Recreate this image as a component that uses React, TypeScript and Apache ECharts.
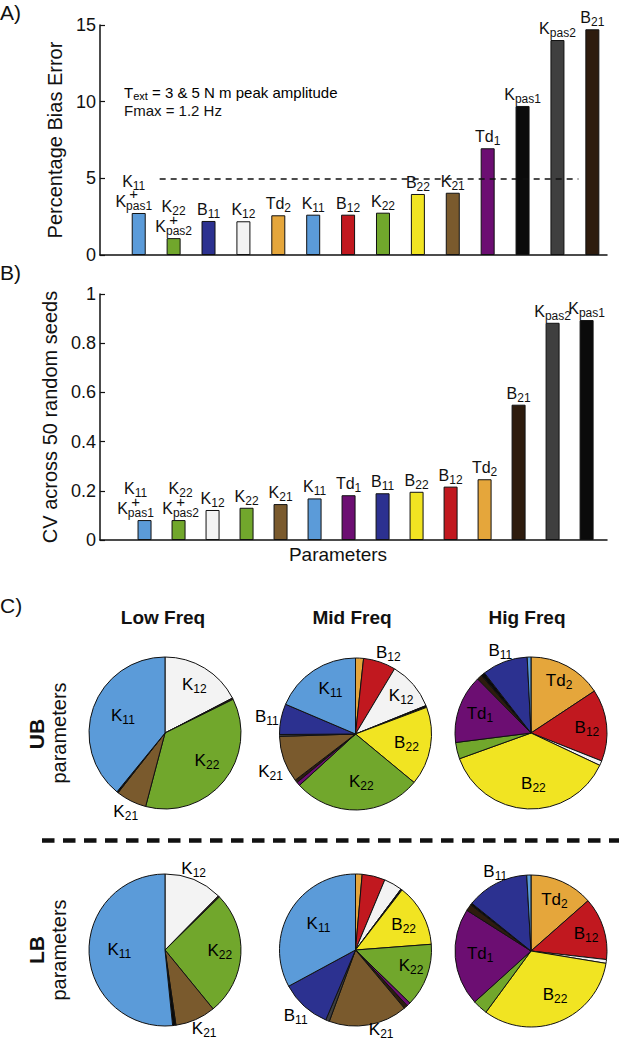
import React, { useEffect, useRef } from 'react';
import * as echarts from 'echarts';

const FONT = '"Liberation Sans", Arial, Helvetica, sans-serif';
const INK = '#111111';

const COLORS: Record<string, string> = {
  K11: '#5b9bd9', K12: '#f3f3f3', K21: '#7a5a2d', K22: '#71a72c',
  B11: '#2c3190', B12: '#c1181f', B21: '#2e1c0e', B22: '#f1e422',
  Td1: '#6c0e72', Td2: '#e5a63b', Kpas1: '#0b0b0b', Kpas2: '#3f3f3f',
};

// Panel A: percentage bias error
const biasParams = ['K11+Kpas1', 'K22+Kpas2', 'B11', 'K12', 'Td2', 'K11', 'B12', 'K22', 'B22', 'K21', 'Td1', 'Kpas1', 'Kpas2', 'B21'];
const biasValues = [2.74, 1.1, 2.22, 2.2, 2.59, 2.63, 2.63, 2.76, 3.98, 4.06, 6.96, 9.72, 14.02, 14.72];
const biasTicks = { min: 0, max: 15, step: 5 };
const biasThreshold = 5;

// Panel B: CV across 50 random seeds
const cvParams = ['K11+Kpas1', 'K22+Kpas2', 'K12', 'K22', 'K21', 'K11', 'Td1', 'B11', 'B22', 'B12', 'Td2', 'B21', 'Kpas2', 'Kpas1'];
const cvValues = [0.081, 0.081, 0.122, 0.131, 0.146, 0.169, 0.182, 0.19, 0.196, 0.217, 0.247, 0.55, 0.883, 0.894];
const cvTicks = { min: 0, max: 1, step: 0.2 };

// Panel C: pie shares (%), clockwise from 12 o'clock
const lowUBNames = ['K12', 'B21', 'K22', 'K21', 'Kpas1', 'K11'];
const lowUBShares = [17.4, 0.3, 36.4, 6.5, 0.3, 39.1];
const midUBNames = ['Td2', 'B12', 'K12', 'Kpas1', 'B22', 'K22', 'Td1', 'B21', 'K21', 'Kpas2', 'B11', 'K11'];
const midUBShares = [1.7, 6.9, 10.3, 0.4, 16.7, 27.2, 0.8, 0.6, 9.9, 0.4, 6.5, 18.6];
const higUBNames = ['Td2', 'B12', 'K12', 'B22', 'K22', 'Td1', 'B21', 'Kpas1', 'B11', 'K11'];
const higUBShares = [15.7, 15.3, 1.0, 37.5, 3.5, 14.6, 1.1, 0.8, 9.7, 0.8];
const lowLBNames = ['K12', 'B21', 'K22', 'K21', 'Kpas1', 'K11'];
const lowLBShares = [12.4, 0.3, 26.4, 8.6, 0.7, 51.6];
const midLBNames = ['Td2', 'B12', 'K12', 'Kpas1', 'B22', 'K22', 'Td1', 'B21', 'K21', 'Kpas2', 'B11', 'K11'];
const midLBShares = [1.4, 4.9, 3.9, 0.3, 13.3, 13.5, 0.8, 0.8, 16.7, 0.8, 10.7, 32.9];
const higLBNames = ['Td2', 'B12', 'K12', 'B22', 'K22', 'Td1', 'B21', 'Kpas1', 'B11', 'K11'];
const higLBShares = [13.5, 13.3, 0.8, 32.5, 3.2, 20.7, 1.4, 0.4, 13.3, 0.9];

const pieTitles = ['Low Freq', 'Mid Freq', 'Hig Freq'];

// layout / styling of the pies (not data)
const R = 76;
type LabelSpec = [string, number, number?];
const PIES: { names: string[]; shares: number[]; center: [number, number]; labels: LabelSpec[] }[] = [
  { names: lowUBNames, shares: lowUBShares, center: [165, 733], labels: [['K12', 0.74], ['K22', 0.66, -6], ['K21', 1.16], ['K11', 0.6, 3]] },
  { names: midUBNames, shares: midUBShares, center: [355.5, 734], labels: [['B12', 1.15, 3.5], ['K12', 0.79], ['B22', 0.68], ['K22', 0.63, -5.5], ['K21', 1.22, -4], ['B11', 1.19], ['K11', 0.68, 4.5]] },
  { names: higUBNames, shares: higUBShares, center: [531, 733], labels: [['Td2', 0.78], ['B12', 0.74], ['B22', 0.66, -5.5], ['Td1', 0.72, 2], ['B11', 1.16]] },
  { names: lowLBNames, shares: lowLBShares, center: [165, 950], labels: [['K12', 1.14, -3], ['K22', 0.72, -3], ['K21', 1.16, -2.6], ['K11', 0.6, 3]] },
  { names: midLBNames, shares: midLBShares, center: [355.5, 950], labels: [['B22', 0.72], ['K22', 0.76, -4], ['K21', 1.1, -8], ['B11', 1.17], ['K11', 0.6, 5]] },
  { names: higLBNames, shares: higLBShares, center: [531, 951], labels: [['Td2', 0.75], ['B12', 0.76], ['B22', 0.65, -7], ['Td1', 0.67, 2], ['B11', 1.15, 3]] },
];

const sub = (name: string, m = 'm', s = 's') => {
  const main = name.startsWith('Td') ? 'Td' : name[0];
  const rest = name.slice(main.length);
  return `{${m}|${main}}{${s}|${rest}}`;
};

const rich = (main: number, small: number, lh: number, pad: number, color = INK) => ({
  m: { fontSize: main, fontFamily: FONT, color, lineHeight: lh },
  s: { fontSize: small, fontFamily: FONT, color, lineHeight: lh, padding: [pad, 0, 0, 0] },
  mt: { fontSize: main, fontFamily: FONT, color, lineHeight: lh - 2 },
  st: { fontSize: small, fontFamily: FONT, color, lineHeight: lh - 2, padding: [pad, 0, 0, 0] },
  p: { fontSize: 15, fontFamily: FONT, color, lineHeight: 4, padding: [6, 0, 0, 0] },
});

const BAR_RICH = rich(16, 12, 17, 9);
const PIE_RICH = rich(17, 12, 18, 9);

const barLabel = (param: string) => {
  if (param.includes('+')) {
    const [a, b] = param.split('+');
    return `${sub(a, 'mt', 'st')}\n{p|+}\n${sub(b)}`;
  }
  return sub(param);
};

const colorOf = (param: string) => COLORS[param.split('+')[0]];

function pieLabelGraphics() {
  const out: any[] = [];
  PIES.forEach((p) => {
    const total = p.shares.reduce((a, b) => a + b, 0);
    const mids: Record<string, number> = {};
    let cum = 0;
    p.names.forEach((n, i) => {
      if (!(n in mids)) mids[n] = ((cum + p.shares[i] / 2) / total) * 360;
      cum += p.shares[i];
    });
    p.labels.forEach(([n, rf, off]) => {
      const a = ((mids[n] + (off || 0)) * Math.PI) / 180;
      const x = p.center[0] + rf * R * Math.sin(a);
      const y = p.center[1] - rf * R * Math.cos(a);
      out.push({
        type: 'text', x, y, silent: true, z: 20,
        style: {
          text: sub(n), rich: n === 'Td1' ? rich(17, 12, 18, 9, '#1c0a1c') : PIE_RICH,
          align: 'center', verticalAlign: 'middle', textAlign: 'center', textVerticalAlign: 'middle',
        },
      });
    });
  });
  return out;
}

const txt = (text: string, x: number, y: number, fontSize: number, opts: any = {}) => ({
  type: 'text', x, y, silent: true, rotation: opts.rotation || 0, z: 20,
  style: {
    text, fill: INK, fontSize, fontFamily: FONT, fontWeight: opts.bold ? 'bold' : 'normal',
    align: opts.align || 'center', verticalAlign: 'middle',
    textAlign: opts.align || 'center', textVerticalAlign: 'middle',
  },
});

// horizontal nudges for the two wide combined labels (layout only)
const labelNudgeA = [-5, 0];
const labelNudgeB = [-9, 2];

export default function App() {
  const ref = useRef<HTMLDivElement>(null);
  useEffect(() => {
    document.body.style.margin = '0';
    if (!ref.current) return;
    const chart = echarts.init(ref.current, undefined, { renderer: 'svg' });

    const axisLine = { show: true, onZero: false, lineStyle: { color: INK, width: 1.5 } };
    const xBase = {
      type: 'value', axisLine, axisTick: { show: false }, axisLabel: { show: false }, splitLine: { show: false },
    };
    const yBase = {
      type: 'value', axisLine, splitLine: { show: false },
      axisTick: { show: true, inside: true, length: 5, lineStyle: { color: INK, width: 1.2 } },
      axisLabel: { fontSize: 18, color: INK, fontFamily: FONT, margin: 4 },
      nameLocation: 'middle', nameRotate: 90,
      nameTextStyle: { fontSize: 20, color: INK, fontFamily: FONT },
    };

    const option: any = {
      animation: false,
      grid: [
        { left: 100, top: 25, width: 507, height: 230 },
        { left: 100, top: 294, width: 507, height: 246 },
      ],
      xAxis: [
        { ...xBase, gridIndex: 0, min: -0.11, max: 14.42 },
        {
          ...xBase, gridIndex: 1, min: -0.31, max: 14.6,
          name: 'Parameters', nameLocation: 'middle', nameGap: 5,
          nameTextStyle: { fontSize: 19, color: INK, fontFamily: FONT, padding: [0, 31, 0, 0] },
        },
      ],
      yAxis: [
        { ...yBase, gridIndex: 0, min: biasTicks.min, max: biasTicks.max, interval: biasTicks.step, name: 'Percentage Bias Error', nameGap: 30 },
        { ...yBase, gridIndex: 1, min: cvTicks.min, max: cvTicks.max, interval: cvTicks.step, name: 'CV across 50 random seeds', nameGap: 32 },
      ],
      series: [
        {
          type: 'line', xAxisIndex: 0, yAxisIndex: 0, data: [], z: 1, silent: true,
          markLine: {
            symbol: 'none', silent: true, label: { show: false },
            lineStyle: { color: INK, type: [6, 5], width: 1.5 },
            data: [[{ coord: [1.6, biasThreshold] }, { coord: [13.6, biasThreshold] }]],
          },
        },
        {
          type: 'bar', xAxisIndex: 0, yAxisIndex: 0, barWidth: 14, z: 3, silent: true,
          itemStyle: { borderColor: INK, borderWidth: 1 },
          label: {
            show: true, position: 'top', distance: 3, rich: BAR_RICH,
            formatter: (p: any) => barLabel(biasParams[p.dataIndex]),
          },
          data: biasValues.map((v, i) => ({
            value: [i + 1, v],
            itemStyle: { color: colorOf(biasParams[i]) },
            label: Math.abs(v - biasThreshold) < 1.2
              ? { backgroundColor: '#ffffff', padding: [0, 3] }
              : i < 2 ? { offset: [labelNudgeA[i], 0] } : undefined,
          })),
        },
        {
          type: 'bar', xAxisIndex: 1, yAxisIndex: 1, barWidth: 14, z: 3, silent: true,
          itemStyle: { borderColor: INK, borderWidth: 1 },
          label: {
            show: true, position: 'top', distance: 3, rich: BAR_RICH,
            formatter: (p: any) => barLabel(cvParams[p.dataIndex]),
          },
          data: cvValues.map((v, i) => ({
            value: [i + 1, v],
            itemStyle: { color: colorOf(cvParams[i]) },
            label: i < 2 ? { offset: [labelNudgeB[i], 0] } : undefined,
          })),
        },
        ...PIES.map((p) => ({
          type: 'pie', center: p.center, radius: R, startAngle: 90, clockwise: true, silent: true,
          avoidLabelOverlap: false, minAngle: 0, z: 2,
          label: { show: false }, labelLine: { show: false }, emphasis: { disabled: true },
          itemStyle: { borderColor: INK, borderWidth: 1 },
          data: p.names.map((n, i) => ({ name: n, value: p.shares[i], itemStyle: { color: COLORS[n] } })),
        })),
      ],
      graphic: [
        txt('A)', 0, 12, 21, { align: 'left' }),
        txt('B)', 0, 272, 21, { align: 'left' }),
        txt('C)', 0, 605, 21, { align: 'left' }),
        {
          type: 'text', x: 124, y: 92, silent: true, z: 20,
          style: {
            text: '{m|T}{s|ext}{m| = 3 & 5 N m peak amplitude}', rich: rich(15, 11, 17, 8),
            align: 'left', verticalAlign: 'middle', textAlign: 'left', textVerticalAlign: 'middle',
          },
        },
        txt('Fmax = 1.2 Hz', 124, 110, 15, { align: 'left' }),
        txt(pieTitles[0], 163, 617, 19, { bold: true }),
        txt(pieTitles[1], 352, 617, 19, { bold: true }),
        txt(pieTitles[2], 527, 617, 19, { bold: true }),
        txt('UB', 36, 734, 21, { bold: true, rotation: Math.PI / 2 }),
        txt('parameters', 59, 733, 20, { rotation: Math.PI / 2 }),
        txt('LB', 36, 950, 21, { bold: true, rotation: Math.PI / 2 }),
        txt('parameters', 59, 950, 20, { rotation: Math.PI / 2 }),
        {
          type: 'line', silent: true, z: 20,
          shape: { x1: 42, y1: 840.5, x2: 619, y2: 840.5 },
          style: { stroke: INK, lineWidth: 4.5, lineDash: [12.5, 8.5] },
        },
        ...pieLabelGraphics(),
      ],
    };
    chart.setOption(option);
    return () => chart.dispose();
  }, []);
  return <div ref={ref} style={{ width: 619, height: 1041, background: '#fff' }} />;
}
